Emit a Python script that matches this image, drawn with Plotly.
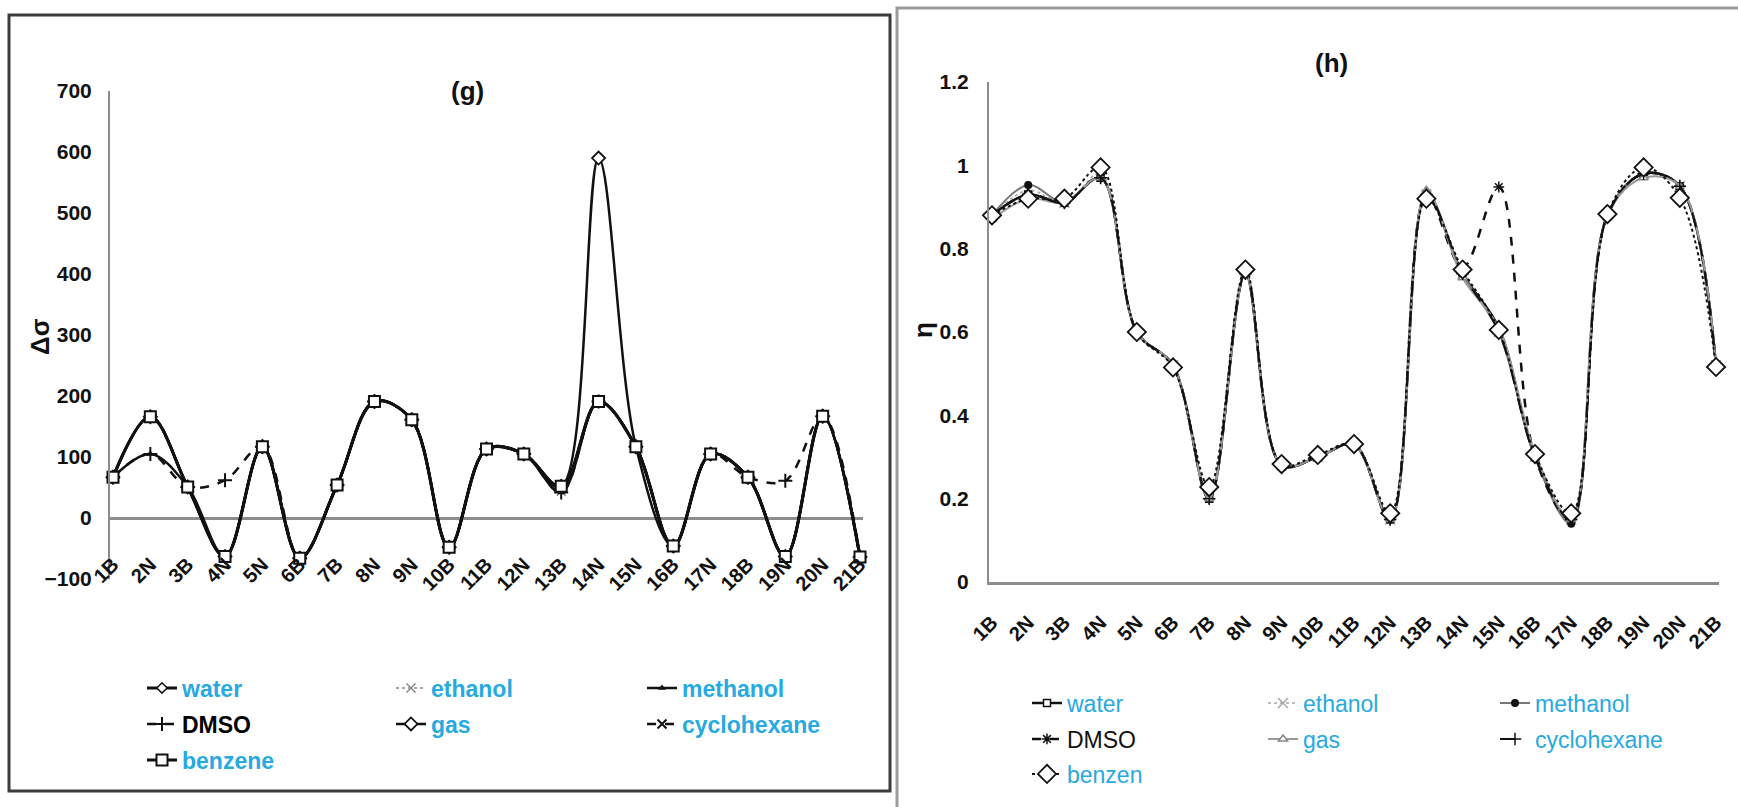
import plotly.graph_objects as go

W, H = 1738, 807

sites = ["1B", "2N", "3B", "4N", "5N", "6B", "7B", "8N", "9N", "10B", "11B",
         "12N", "13B", "14N", "15N", "16B", "17N", "18B", "19N", "20N", "21B"]

# ---- panel (g): Δσ per solvent ----
g_water = [67, 166, 51, -63, 117, -66, 54, 191, 161, -48, 113, 105, 50, 191, 117, -46, 105, 67, -63, 167, -64]
g_ethanol = [67, 164, 50, -62, 116, -65, 54, 190, 160, -47, 112, 104, 44, 190, 116, -45, 104, 66, -62, 166, -63]
g_methanol = [67, 105, 51, -63, 117, -66, 54, 191, 161, -48, 113, 105, 42, 191, 117, -46, 105, 67, -63, 167, -64]
g_dmso = [67, 105, 51, 62, 117, -66, 54, 191, 161, -48, 113, 105, 42, 191, 117, -46, 105, 67, 61, 167, -64]
g_gas = [67, 166, 51, -63, 117, -66, 54, 191, 161, -48, 113, 105, 52, 590, 117, -46, 105, 67, -63, 167, -64]
g_cyclohexane = [67, 166, 51, -63, 117, -66, 54, 191, 161, -48, 113, 105, 50, 191, 117, -46, 105, 67, -63, 167, -64]
g_benzene = [67, 166, 51, -63, 117, -66, 54, 191, 161, -48, 113, 105, 52, 191, 117, -46, 105, 67, -63, 167, -64]

# ---- panel (h): η per solvent ----
h_water = [0.88, 0.93, 0.91, 0.97, 0.60, 0.52, 0.20, 0.74, 0.28, 0.30, 0.33, 0.15, 0.93, 0.74, 0.61, 0.30, 0.15, 0.88, 0.98, 0.95, 0.52]
h_ethanol = [0.88, 0.94, 0.91, 0.98, 0.60, 0.52, 0.21, 0.74, 0.28, 0.30, 0.33, 0.15, 0.93, 0.74, 0.60, 0.30, 0.15, 0.88, 0.98, 0.95, 0.52]
h_methanol = [0.88, 0.953, 0.91, 0.97, 0.60, 0.52, 0.20, 0.74, 0.28, 0.30, 0.33, 0.15, 0.93, 0.74, 0.60, 0.30, 0.14, 0.88, 0.98, 0.95, 0.52]
h_dmso = [0.88, 0.93, 0.91, 0.97, 0.60, 0.52, 0.20, 0.74, 0.28, 0.30, 0.33, 0.15, 0.93, 0.755, 0.948, 0.30, 0.15, 0.88, 0.98, 0.95, 0.52]
h_gas = [0.87, 0.92, 0.91, 0.97, 0.60, 0.52, 0.20, 0.74, 0.28, 0.30, 0.33, 0.15, 0.94, 0.73, 0.61, 0.31, 0.15, 0.88, 0.97, 0.95, 0.52]
h_cyclohexane = [0.88, 0.93, 0.91, 0.97, 0.60, 0.52, 0.20, 0.74, 0.28, 0.30, 0.33, 0.15, 0.93, 0.74, 0.60, 0.30, 0.15, 0.88, 0.98, 0.95, 0.52]
h_benzen = [0.88, 0.92, 0.92, 0.995, 0.60, 0.515, 0.228, 0.75, 0.283, 0.305, 0.331, 0.165, 0.92, 0.75, 0.605, 0.307, 0.165, 0.883, 0.995, 0.922, 0.516]

g_yticks = [-100, 0, 100, 200, 300, 400, 500, 600, 700]
h_yticks = [0, 0.2, 0.4, 0.6, 0.8, 1, 1.2]
h_yticktext = ["0", "0.2", "0.4", "0.6", "0.8", "1", "1.2"]

FONT = "Liberation Sans Narrow, Arial Narrow, Liberation Sans, Arial, sans-serif"
CYAN = "#27A9E1"


def px(x):
    return x / W


def py(y):
    return 1 - y / H


fig = go.Figure()

# (name, values, line, marker, legend text colour)
g_specs = [
    ("water", g_water, dict(color="#111", width=3), dict(symbol="diamond", size=8, color="white", line=dict(color="#111", width=1.5)), CYAN),
    ("ethanol", g_ethanol, dict(color="#8a8a8a", width=1.5, dash="dot"), dict(symbol="x-thin-open", size=9, color="#8a8a8a", line=dict(color="#8a8a8a", width=1.5)), CYAN),
    ("methanol", g_methanol, dict(color="#111", width=2.5), dict(symbol="triangle-up", size=7, color="#111"), CYAN),
    ("DMSO", g_dmso, dict(color="#111", width=2.5, dash="dash"), dict(symbol="cross-thin-open", size=10, color="#111", line=dict(color="#111", width=2)), "#000"),
    ("gas", g_gas, dict(color="#111", width=2.5), dict(symbol="diamond", size=10, color="white", line=dict(color="#111", width=1.8)), CYAN),
    ("cyclohexane", g_cyclohexane, dict(color="#111", width=2.5, dash="dash"), dict(symbol="x-thin-open", size=9, color="#111", line=dict(color="#111", width=2)), CYAN),
    ("benzene", g_benzene, dict(color="#111", width=3), dict(symbol="square", size=11, color="white", line=dict(color="#111", width=2)), CYAN),
]

h_specs = [
    ("water", h_water, dict(color="#111", width=2.5), dict(symbol="square", size=7, color="white", line=dict(color="#111", width=1.5)), CYAN),
    ("ethanol", h_ethanol, dict(color="#a8a8a8", width=1.5, dash="dot"), dict(symbol="x-thin-open", size=10, color="#a8a8a8", line=dict(color="#a8a8a8", width=1.5)), CYAN),
    ("methanol", h_methanol, dict(color="#777", width=2), dict(symbol="circle", size=8, color="#111"), CYAN),
    ("DMSO", h_dmso, dict(color="#111", width=2.5, dash="dash"), dict(symbol="asterisk-open", size=9, color="#111", line=dict(color="#111", width=1.5)), "#111"),
    ("gas", h_gas, dict(color="#999", width=2), dict(symbol="triangle-up", size=8, color="white", line=dict(color="#888", width=1.5)), CYAN),
    ("cyclohexane", h_cyclohexane, dict(color="#111", width=2, dash="longdash"), dict(symbol="cross-thin-open", size=9, color="#111", line=dict(color="#111", width=1.5)), CYAN),
    ("benzen", h_benzen, dict(color="#111", width=2, dash="dot"), dict(symbol="diamond", size=14, color="white", line=dict(color="#111", width=1.8)), CYAN),
]

# legend grid: rows (pixel y) and text columns (pixel x) for each panel
g_rows = [688, 724, 760]
g_cols = [187, 436, 687]
h_rows = [703, 739, 774]
h_cols = [1072, 1308, 1540]

legend_layout = {}
n = 0
for panel, specs, xa, ya, rows, cols, weight, fsize in (
    ("g", g_specs, "x", "y", g_rows, g_cols, "bold", 23),
    ("h", h_specs, "x2", "y2", h_rows, h_cols, "normal", 23),
):
    for i, (name, vals, line, marker, tcol) in enumerate(specs):
        n += 1
        lname = "legend" if n == 1 else f"legend{n}"
        fig.add_trace(go.Scatter(
            x=sites, y=vals, name=name, xaxis=xa, yaxis=ya,
            mode="lines+markers", line=dict(shape="spline", smoothing=1.0, **line),
            marker=marker, cliponaxis=False, legend=lname, showlegend=True,
        ))
        r, c = divmod(i, 3)
        legend_layout[lname] = dict(
            x=px(cols[c] - 45), y=py(rows[r]), xanchor="left", yanchor="middle",
            bgcolor="rgba(0,0,0,0)", borderwidth=0, itemsizing="trace",
            font=dict(family=FONT, size=fsize, color=tcol, weight=weight),
        )

axis_font = dict(family=FONT, size=21, color="#111", weight="bold")
xlab_font = dict(family=FONT, size=20, color="#111", weight="bold")

fig.update_layout(
    width=W, height=H, margin=dict(l=0, r=0, t=0, b=0, autoexpand=False),
    paper_bgcolor="white", plot_bgcolor="rgba(0,0,0,0)",
    font=dict(family=FONT),
    # panel (g)
    xaxis=dict(domain=[px(110), px(863)], range=[-0.08, 20.08], type="category",
               anchor="free", position=py(548), showline=False, showgrid=False,
               zeroline=False, ticks="", tickangle=-45, tickfont=xlab_font,
               automargin=False),
    yaxis=dict(domain=[py(579), py(91)], range=[-100, 700], tickvals=g_yticks,
               showline=True, linecolor="#8c8c8c", linewidth=2, showgrid=False,
               zeroline=True, zerolinecolor="#8c8c8c", zerolinewidth=3,
               ticks="", ticklabelstandoff=12, tickfont=axis_font,
               anchor="x", automargin=False),
    # panel (h)
    xaxis2=dict(domain=[px(989), px(1719)], range=[-0.083, 20.083], type="category",
                anchor="y2", showline=True, linecolor="#8c8c8c", linewidth=3,
                showgrid=False, zeroline=False, ticks="", tickangle=-45,
                ticklabelstandoff=18, tickfont=xlab_font, automargin=False),
    yaxis2=dict(domain=[py(582), py(82)], range=[0, 1.2], tickvals=h_yticks,
                ticktext=h_yticktext, showline=True, linecolor="#8c8c8c", linewidth=2,
                showgrid=False, zeroline=False, ticks="", ticklabelstandoff=14,
                tickfont=axis_font, anchor="x2", automargin=False),
    **legend_layout,
)

# chart-area frames
fig.add_shape(type="rect", xref="paper", yref="paper",
              x0=px(9), x1=px(890), y0=py(791), y1=py(15),
              line=dict(color="#3c3c3c", width=3), fillcolor="rgba(0,0,0,0)", layer="below")
fig.add_shape(type="rect", xref="paper", yref="paper",
              x0=px(897), x1=px(1760), y0=py(830), y1=py(8),
              line=dict(color="#9c9c9c", width=3), fillcolor="rgba(0,0,0,0)", layer="below")

# titles and y-axis labels
title_font = dict(family=FONT, size=26, color="#111", weight="bold")
for txt, x, y, ang in (("(g)", 468, 91, 0), ("(h)", 1331, 63, 0),
                       ("Δσ", 40, 337, -90), ("η", 923, 330, -90)):
    fig.add_annotation(x=px(x), y=py(y), xref="paper", yref="paper", text=txt,
                       xanchor="center", yanchor="middle", textangle=ang,
                       showarrow=False, font=title_font)

fig.write_html("out.html")
